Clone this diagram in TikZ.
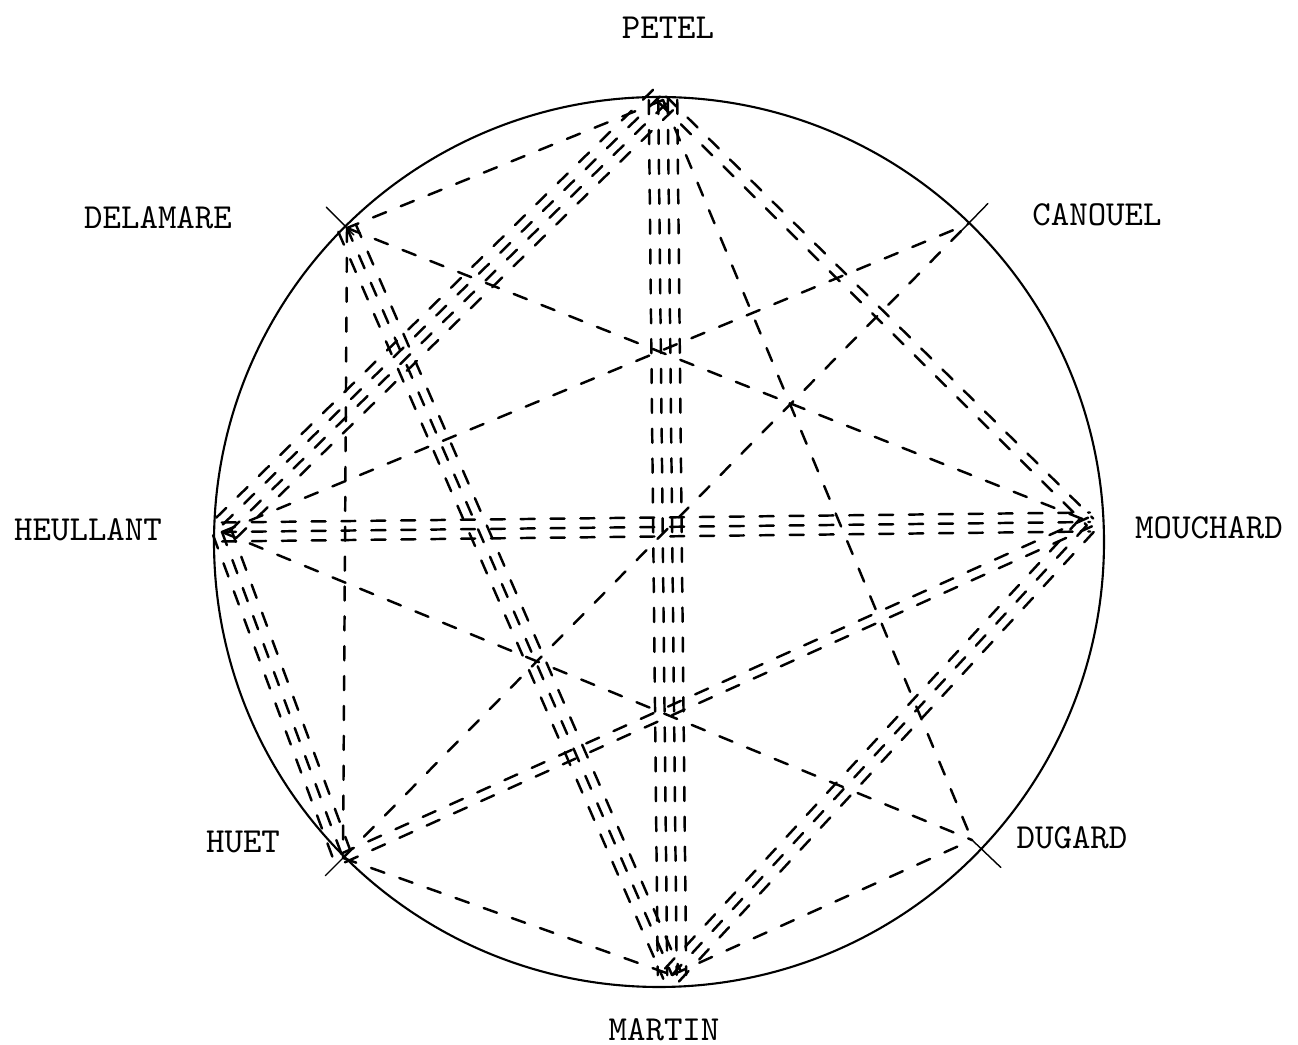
\documentclass[tikz,border=0pt]{standalone}
\usepackage{fontspec}
\usetikzlibrary{calc}
\begin{document}
\begin{tikzpicture}[x=0.1mm, y=-0.1mm, font=\ttfamily\fontsize{10}{11}\selectfont, line join=round, line cap=round,
		link/.style={line width=0.7pt, dash pattern=on 4pt off 4.5pt},
		tick/.style={line width=0.4pt}]
				
				\def\gap{2.7}
				\def\rel#1#2#3{%
					\foreach \k in {1,...,#3}{
						\pgfmathsetmacro\off{(\k-(#3+1)/2)*\gap}
						\draw[link] ($(#1)!\off pt!90:(#2)$) -- ($(#2)!\off pt!-90:(#1)$);
					}}
				
				\useasboundingbox (0,0) rectangle (1298,1045);
				
				\coordinate (o) at (659,542);
				\coordinate (petel) at (663,100);
				\coordinate (canouel) at (968,224);
				\coordinate (mouchard) at (1090,522);
				\coordinate (dugard) at (972,840);
				\coordinate (martin) at (672,975);
				\coordinate (huet) at (343,858);
				\coordinate (heullant) at (222,532);
				\coordinate (delamare) at (347,228);
				
				\draw[line width=0.6pt] (o) circle [radius=44.5mm];
				
				% marks on the circle
				\foreach \p in {delamare,canouel,huet,dugard}
				\draw[tick] ($(o)!43.3mm!(\p)$) -- ($(o)!47.2mm!(\p)$);
				
				\rel{petel}{heullant}{4}
				\rel{petel}{delamare}{1}
				\rel{petel}{martin}{4}
				\rel{petel}{mouchard}{2}
				\rel{petel}{dugard}{1}
				\rel{delamare}{huet}{1}
				\rel{delamare}{martin}{3}
				\rel{delamare}{mouchard}{1}
				\rel{heullant}{canouel}{1}
				\rel{heullant}{mouchard}{3}
				\rel{heullant}{huet}{3}
				\rel{heullant}{dugard}{1}
				\rel{huet}{canouel}{1}
				\rel{huet}{mouchard}{2}
				\rel{huet}{martin}{1}
				\rel{martin}{mouchard}{3}
				\rel{martin}{dugard}{1}
				
				\node (lpetel) at (668,28) {PETEL};
				\node (ldelamare) at (158,218) {DELAMARE};
				\node (lcanouel) at (1097,215) {CANOUEL};
				\node (lheullant) at (88,530) {HEULLANT};
				\node (lmouchard) at (1209,528) {MOUCHARD};
				\node (lhuet) at (243,842) {HUET};
				\node (ldugard) at (1072,838) {DUGARD};
				\node (lmartin) at (664,1030) {MARTIN};
		\end{tikzpicture}
\end{document}
